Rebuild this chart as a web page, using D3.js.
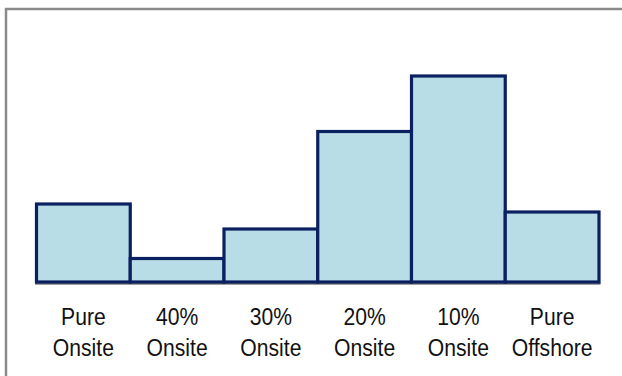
<!DOCTYPE html>
<html>
<head>
<meta charset="utf-8">
<script src="https://cdn.jsdelivr.net/npm/d3@7"></script>
<style>
  html, body { margin: 0; padding: 0; background: #fff; }
  svg { display: block; }
  .lbl { font-family: "Liberation Sans", Arial, sans-serif; font-size: 24px; fill: #111; }
</style>
</head>
<body>
<svg id="chart"></svg>
<script>
// categories (two label lines each) and bar heights
const labelTop = ["Pure", "40%", "30%", "20%", "10%", "Pure"];
const labelBottom = ["Onsite", "Onsite", "Onsite", "Onsite", "Onsite", "Offshore"];
const values = [78, 23.5, 53, 150.5, 206, 70];

const width = 622, height = 376;
const baseY = 282;
const svg = d3.select("#chart").attr("width", width).attr("height", height);

// frame (runs off the right / bottom edges)
svg.append("rect")
    .attr("x", 6).attr("y", 9)
    .attr("width", width + 20).attr("height", height + 20)
    .attr("fill", "none").attr("stroke", "#8a8a8a").attr("stroke-width", 2.5);

const x = d3.scaleBand().domain(d3.range(values.length)).range([36.5, 599]).padding(0);
const y = d3.scaleLinear().domain([0, 206]).range([baseY, 76]);

// gray base line
svg.append("line")
    .attr("x1", 35).attr("x2", 600.5)
    .attr("y1", baseY + 1.8).attr("y2", baseY + 1.8)
    .attr("stroke", "#7f7f7f").attr("stroke-width", 2);

svg.append("g").selectAll("rect")
    .data(values)
    .join("rect")
    .attr("x", (d, i) => x(i))
    .attr("y", d => y(d))
    .attr("width", x.bandwidth())
    .attr("height", d => baseY - y(d))
    .attr("fill", "#b8dde7")
    .attr("stroke", "#0a2060")
    .attr("stroke-width", 3.2);

// category labels, condensed like the original
const labels = svg.append("g").selectAll("g")
    .data(labelTop)
    .join("g")
    .attr("transform", (d, i) => `translate(${x(i) + x.bandwidth() / 2},0) scale(0.88,1)`);

labels.append("text").attr("class", "lbl")
    .attr("y", 325).attr("text-anchor", "middle")
    .text(d => d);
labels.append("text").attr("class", "lbl")
    .attr("y", 356).attr("text-anchor", "middle")
    .text((d, i) => labelBottom[i]);
</script>
</body>
</html>
